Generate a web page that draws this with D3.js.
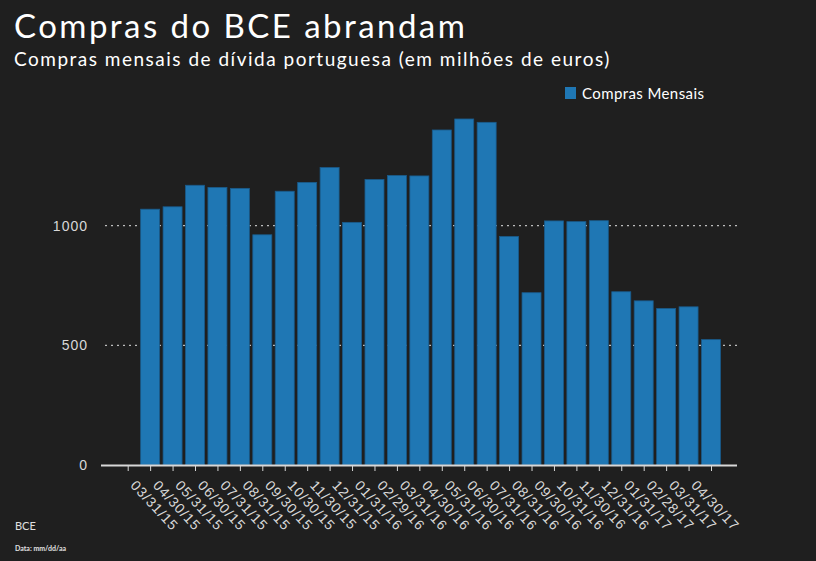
<!DOCTYPE html>
<html>
<head>
<meta charset="utf-8">
<script src="https://cdn.jsdelivr.net/npm/d3@7"></script>
<style>
  body { margin: 0; background: #1f1f1f; }
  svg { display: block; font-family: Lato, "Noto Sans", sans-serif; }
  .axis text { fill: #d8d8d8; font-size: 14px; letter-spacing: 1px; }
  .axis line, .axis path { stroke: #d8d8d8; }
</style>
</head>
<body>
<div id="chart"></div>
<script>
// monthly purchases, millions of euros
var dates = ["03/31/15", "04/30/15", "05/31/15", "06/30/15", "07/31/15", "08/31/15",
             "09/30/15", "10/30/15", "11/30/15", "12/31/15", "01/31/16", "02/29/16",
             "03/31/16", "04/30/16", "05/31/16", "06/30/16", "07/31/16", "08/31/16",
             "09/30/16", "10/31/16", "11/30/16", "12/31/16", "01/31/17", "02/28/17",
             "03/31/17", "04/30/17"];
var compras = [1069, 1079, 1169, 1160, 1156, 962, 1144, 1181, 1243, 1014, 1193, 1210,
               1208, 1400, 1446, 1432, 955, 720, 1020, 1017, 1021, 724, 686, 654,
               661, 524];
var yTicks = [0, 500, 1000];
var serieName = "Compras Mensais";

var width = 816, height = 561;
var svg = d3.select("#chart").append("svg")
    .attr("width", width)
    .attr("height", height);

svg.append("rect").attr("width", width).attr("height", height).attr("fill", "#1f1f1f");

// titles
svg.append("text").attr("x", 14).attr("y", 38)
    .attr("fill", "#ffffff").style("font-size", "33px").style("letter-spacing", "2.45px")
    .text("Compras do BCE abrandam");
svg.append("text").attr("x", 14).attr("y", 66)
    .attr("fill", "#ffffff").style("font-size", "19px").style("letter-spacing", "1.5px")
    .text("Compras mensais de dívida portuguesa (em milhões de euros)");

// the axis has one extra slot at the end, bars sit one slot to the right of their label
var slots = dates.concat(["fim"]);
var x = d3.scalePoint().domain(slots).range([127.7, 711]);
var y = d3.scaleLinear().domain([0, 1000]).range([465, 225.7]);
var barW = 19;

// grid
svg.append("g").selectAll("line")
    .data(yTicks.filter(function (d) { return d > 0; }))
    .enter().append("line")
    .attr("x1", 105).attr("x2", 737)
    .attr("y1", function (d) { return y(d); })
    .attr("y2", function (d) { return y(d); })
    .attr("stroke", "#bdbdbd")
    .attr("stroke-width", 1.3)
    .attr("stroke-dasharray", "2,4");

// bars
svg.append("g").selectAll("rect")
    .data(compras)
    .enter().append("rect")
    .attr("x", function (d, i) { return x(slots[i + 1]) - barW / 2; })
    .attr("y", function (d) { return y(d); })
    .attr("width", barW)
    .attr("height", function (d) { return y(0) - y(d); })
    .attr("fill", "#1f77b4")
    .attr("stroke", "#1a5a8a")
    .attr("stroke-width", 0.8);

// y axis (labels only)
var yAxis = svg.append("g").attr("class", "axis")
    .attr("transform", "translate(88,0)")
    .call(d3.axisLeft(y).tickValues(yTicks).tickFormat(d3.format("d")).tickSize(0).tickPadding(0));
yAxis.select(".domain").remove();

// x axis
var xAxis = svg.append("g").attr("class", "axis")
    .attr("transform", "translate(0,465)")
    .call(d3.axisBottom(x).tickSize(6).tickSizeOuter(0)
        .tickFormat(function (d) { return d === "fim" ? "" : d; }));
xAxis.select(".domain").attr("d", "M101,0.5H737").attr("stroke-width", 2);
xAxis.selectAll(".tick line").attr("stroke", "#aaaaaa");
xAxis.selectAll(".tick text")
    .style("text-anchor", "start")
    .attr("x", 0).attr("y", 0).attr("dy", 0)
    .attr("transform", "translate(1.5,21) rotate(47)");

// legend
var leg = svg.append("g").attr("transform", "translate(565,87)");
leg.append("rect").attr("width", 11).attr("height", 12).attr("fill", "#1f77b4");
leg.append("text").attr("x", 17).attr("y", 11.5)
    .attr("fill", "#ffffff").style("font-size", "15px").style("letter-spacing", "0.4px")
    .text(serieName);

// footer
svg.append("text").attr("x", 15).attr("y", 530)
    .attr("fill", "#e0e0e0").style("font-size", "11px")
    .text("BCE");
svg.append("text").attr("x", 15).attr("y", 551)
    .attr("fill", "#e0e0e0").style("font-size", "7px").style("font-weight", "bold")
    .text("Data: mm/dd/aa");
</script>
</body>
</html>
